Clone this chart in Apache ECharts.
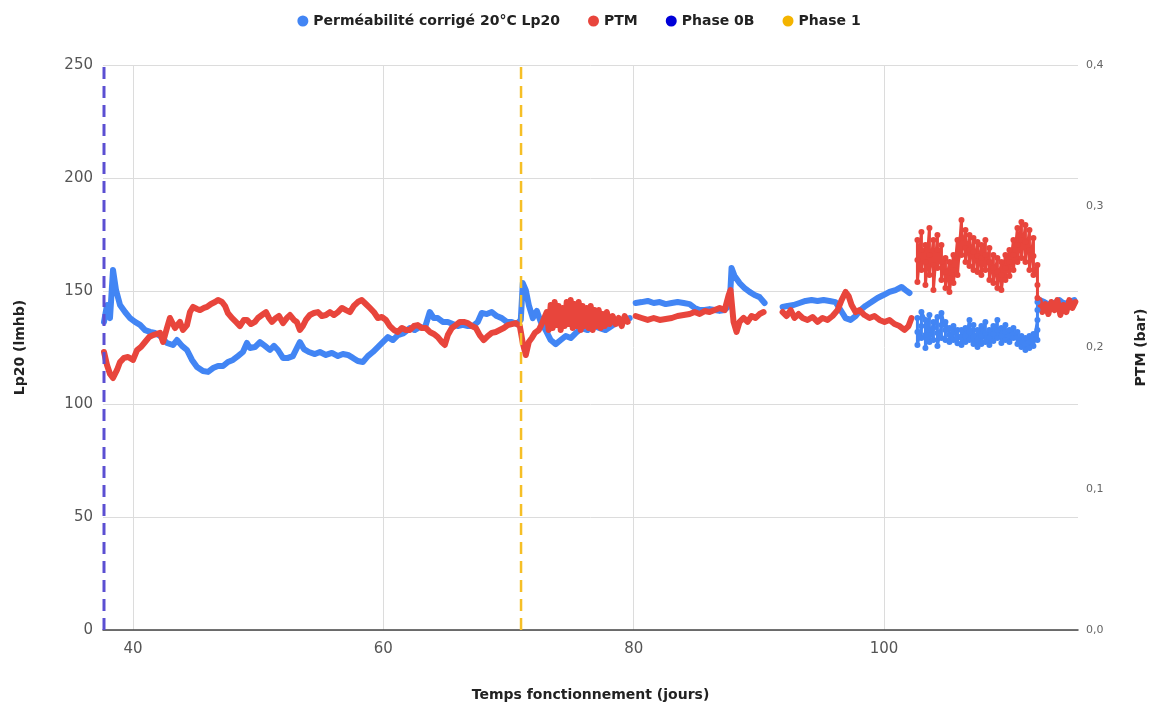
<!DOCTYPE html>
<html>
<head>
<meta charset="utf-8">
<script src="https://cdn.jsdelivr.net/npm/echarts@6/dist/echarts.min.js"></script>
<style>html,body{margin:0;padding:0;background:#fff}#c{width:1158px;height:711px}</style>
</head>
<body>
<div id="c"></div>
<script>
// ---- Tick labels ----
const xTicks = [40, 60, 80, 100];
const phase0B = 37.68;
const phase1 = 71.0;

// ---- Perméabilité corrigé 20°C Lp20 (lmhb) : [jours, Lp20] ----
const lpA = [[37.68,136.3],[37.92,143.8],[38.16,138.0],[38.40,159.3],[38.64,150.4],[38.96,143.8],[39.36,140.7],[39.76,138.0],[40.16,136.3],[40.56,135.0],[40.96,132.7],[41.36,131.9],[41.76,131.4],[42.16,130.1],[42.71,127.0],[43.19,126.1],[43.51,128.3],[43.91,125.7],[44.31,123.9],[44.71,119.5],[45.11,116.4],[45.59,114.6],[45.99,114.2],[46.39,115.9],[46.79,116.8],[47.19,116.8],[47.58,118.6],[47.98,119.5],[48.38,121.2],[48.78,123.0],[49.10,127.0],[49.34,124.8],[49.74,125.2],[50.14,127.4],[50.54,125.7],[50.94,123.9],[51.26,125.7],[51.58,123.9],[51.98,120.4],[52.38,120.4],[52.77,121.2],[53.09,124.8],[53.33,127.4],[53.65,124.3],[54.05,123.0],[54.53,122.1],[54.93,123.0],[55.41,121.7],[55.89,122.6],[56.37,121.2],[56.77,122.1],[57.17,121.7],[57.57,120.4],[57.96,119.0],[58.36,118.6],[58.76,121.2],[59.16,123.0],[59.56,125.2],[59.96,127.4],[60.36,129.6],[60.76,128.3],[61.16,130.5],[61.64,131.4],[62.12,133.6],[62.52,132.7],[62.91,134.1],[63.31,133.6],[63.71,140.7],[64.03,138.0],[64.35,138.0],[64.75,136.3],[65.15,136.3],[65.55,135.4],[65.95,134.5],[66.35,135.0],[66.75,134.5],[67.15,134.5],[67.54,136.3],[67.86,140.3],[68.26,139.8],[68.66,140.7],[69.06,138.9],[69.46,138.0],[69.86,136.3],[70.26,136.3],[70.66,135.4],[70.98,137.2],[71.14,153.5],[71.38,150.4],[71.62,143.8],[71.94,138.0],[72.26,141.2],[72.58,136.3],[72.97,132.7],[73.37,128.3],[73.77,126.5],[74.17,128.3],[74.57,130.1],[74.97,129.2],[75.37,131.4],[75.85,133.6],[76.33,132.7],[76.81,134.5],[77.29,133.6],[77.76,132.7],[78.24,134.5],[78.72,136.3],[79.20,137.2],[79.68,138.0]];
const lpB = [[80.16,144.7],[80.64,145.1],[81.12,145.6],[81.60,144.7],[82.08,145.1],[82.56,144.2],[83.04,144.7],[83.51,145.1],[83.99,144.7],[84.47,144.2],[84.87,142.5],[85.27,141.6],[85.67,141.6],[86.07,142.0],[86.47,141.6],[86.87,141.2],[87.27,141.6],[87.67,143.8],[87.82,160.2],[88.06,156.6],[88.46,153.5],[88.86,151.3],[89.26,149.6],[89.66,148.2],[90.06,147.3],[90.46,144.7]];
const lpC = [[91.90,142.9],[92.30,143.4],[92.78,143.8],[93.25,144.7],[93.73,145.6],[94.21,146.0],[94.69,145.6],[95.17,146.0],[95.65,145.6],[96.13,145.1],[96.53,141.6],[96.93,138.0],[97.33,137.2],[97.73,138.9],[98.12,141.6],[98.52,143.4],[99.00,145.1],[99.48,146.9],[99.96,148.2],[100.44,149.6],[100.92,150.4],[101.40,151.8],[101.72,150.4],[102.04,149.1]];
const lpNoise = [[102.67,138.1],[102.67,131.9],[102.67,126.1],[102.99,134.5],[102.99,129.2],[102.99,140.7],[103.31,137.2],[103.31,130.5],[103.31,124.8],[103.63,139.4],[103.63,132.7],[103.63,127.4],[103.95,136.3],[103.95,128.3],[103.95,133.6],[104.27,138.5],[104.27,131.4],[104.27,125.7],[104.59,135.0],[104.59,129.2],[104.59,140.3],[104.91,132.7],[104.91,128.3],[104.91,136.3],[105.23,130.5],[105.23,133.6],[105.23,127.4],[105.55,131.9],[105.55,128.3],[105.55,134.5],[105.87,130.1],[105.87,126.9],[105.87,132.7],[106.19,132.7],[106.19,129.2],[106.19,126.1],[106.51,133.6],[106.51,130.1],[106.51,127.4],[106.83,137.2],[106.83,131.9],[106.83,128.3],[107.15,135.0],[107.15,129.6],[107.15,126.5],[107.47,132.7],[107.47,128.3],[107.47,125.2],[107.78,134.5],[107.78,130.1],[107.78,126.5],[108.10,136.3],[108.10,131.4],[108.10,127.4],[108.42,132.7],[108.42,129.2],[108.42,126.1],[108.74,134.5],[108.74,131.0],[108.74,127.9],[109.06,137.2],[109.06,132.7],[109.06,129.2],[109.38,133.6],[109.38,130.1],[109.38,127.0],[109.70,135.0],[109.70,131.9],[109.70,128.3],[110.02,132.7],[110.02,130.1],[110.02,127.4],[110.34,133.6],[110.34,131.0],[110.34,129.2],[110.66,131.9],[110.66,129.2],[110.66,126.5],[110.98,130.1],[110.98,127.4],[110.98,125.2],[111.30,129.2],[111.30,126.5],[111.30,123.9],[111.62,130.1],[111.62,127.4],[111.62,124.8],[111.94,131.0],[111.94,128.3],[111.94,125.7],[112.26,137.2],[112.26,132.7],[112.26,128.3],[112.26,141.6],[112.26,145.1]];
const lpD = [[112.42,146.0],[112.81,145.1],[113.21,143.8],[113.61,144.7],[114.01,146.0],[114.41,144.2],[114.81,145.1],[115.21,146.0]];

// ---- PTM (bar) : [jours, PTM] ----
const ptmA = [[37.68,0.1968],[37.92,0.1876],[38.16,0.1812],[38.40,0.1784],[38.72,0.1841],[38.96,0.1897],[39.28,0.1926],[39.60,0.1933],[40.00,0.1912],[40.32,0.1982],[40.64,0.2004],[40.96,0.2039],[41.28,0.2074],[41.60,0.2088],[41.92,0.2096],[42.16,0.2103],[42.40,0.2039],[42.71,0.2138],[42.95,0.2209],[43.35,0.2138],[43.75,0.2181],[43.99,0.2124],[44.31,0.2159],[44.55,0.2251],[44.79,0.2287],[45.11,0.2273],[45.35,0.2265],[45.67,0.2280],[45.91,0.2287],[46.23,0.2308],[46.55,0.2322],[46.79,0.2336],[47.11,0.2322],[47.35,0.2294],[47.58,0.2244],[47.90,0.2209],[48.22,0.2181],[48.54,0.2152],[48.86,0.2195],[49.10,0.2195],[49.42,0.2166],[49.74,0.2181],[49.98,0.2209],[50.30,0.2230],[50.62,0.2251],[50.86,0.2209],[51.10,0.2181],[51.42,0.2209],[51.66,0.2223],[51.98,0.2173],[52.30,0.2209],[52.54,0.2230],[52.85,0.2195],[53.09,0.2181],[53.33,0.2124],[53.57,0.2152],[53.81,0.2195],[54.13,0.2230],[54.45,0.2244],[54.77,0.2251],[55.09,0.2223],[55.41,0.2230],[55.73,0.2251],[56.05,0.2230],[56.37,0.2251],[56.69,0.2280],[57.01,0.2265],[57.33,0.2251],[57.64,0.2294],[57.96,0.2322],[58.28,0.2336],[58.60,0.2308],[58.92,0.2280],[59.24,0.2251],[59.56,0.2209],[59.88,0.2216],[60.20,0.2195],[60.52,0.2152],[60.84,0.2124],[61.16,0.2110],[61.48,0.2138],[61.80,0.2124],[62.12,0.2124],[62.44,0.2152],[62.75,0.2159],[63.07,0.2138],[63.39,0.2138],[63.71,0.2110],[64.03,0.2096],[64.35,0.2074],[64.67,0.2039],[64.91,0.2018],[65.15,0.2088],[65.47,0.2138],[65.79,0.2159],[66.11,0.2181],[66.43,0.2181],[66.75,0.2173],[67.07,0.2152],[67.39,0.2138],[67.70,0.2088],[68.02,0.2053],[68.34,0.2081],[68.66,0.2103],[68.98,0.2110],[69.30,0.2124],[69.62,0.2138],[69.94,0.2159],[70.26,0.2166],[70.58,0.2173],[70.90,0.2152],[71.14,0.2032],[71.38,0.1947],[71.62,0.2039],[71.86,0.2067],[72.10,0.2103],[72.42,0.2124],[72.73,0.2181],[73.05,0.2251],[73.21,0.2124],[73.37,0.2301],[73.53,0.2138],[73.69,0.2322],[73.85,0.2159],[74.01,0.2294],[74.17,0.2124],[74.33,0.2280],[74.49,0.2152],[74.65,0.2322],[74.81,0.2166],[74.97,0.2336],[75.13,0.2138],[75.29,0.2308],[75.45,0.2152],[75.61,0.2322],[75.77,0.2124],[75.93,0.2294],[76.09,0.2152],[76.25,0.2280],[76.41,0.2138],[76.57,0.2294],[76.73,0.2124],[76.89,0.2265],[77.05,0.2152],[77.21,0.2265],[77.37,0.2138],[77.53,0.2237],[77.69,0.2152],[77.85,0.2251],[78.08,0.2166],[78.32,0.2223],[78.56,0.2166],[78.80,0.2209],[79.04,0.2152],[79.28,0.2223],[79.52,0.2181]];
const ptmB = [[80.16,0.2223],[80.64,0.2209],[81.12,0.2195],[81.60,0.2209],[82.08,0.2195],[82.56,0.2202],[83.04,0.2209],[83.51,0.2223],[83.99,0.2230],[84.47,0.2237],[84.87,0.2251],[85.27,0.2237],[85.67,0.2258],[86.07,0.2251],[86.47,0.2265],[86.87,0.2280],[87.27,0.2265],[87.59,0.2372],[87.74,0.2407],[87.98,0.2181],[88.22,0.2110],[88.46,0.2181],[88.78,0.2209],[89.10,0.2181],[89.42,0.2223],[89.74,0.2209],[90.06,0.2237],[90.38,0.2251]];
const ptmC = [[91.90,0.2251],[92.22,0.2223],[92.54,0.2265],[92.85,0.2209],[93.17,0.2237],[93.49,0.2209],[93.89,0.2195],[94.29,0.2216],[94.69,0.2181],[95.09,0.2209],[95.49,0.2195],[95.89,0.2223],[96.29,0.2265],[96.61,0.2336],[96.93,0.2393],[97.17,0.2365],[97.41,0.2301],[97.73,0.2251],[98.04,0.2265],[98.44,0.2230],[98.84,0.2209],[99.24,0.2223],[99.64,0.2195],[100.04,0.2181],[100.44,0.2195],[100.84,0.2166],[101.24,0.2152],[101.64,0.2124],[101.96,0.2152],[102.20,0.2209]];
const ptmNoise = [[102.67,0.2761],[102.67,0.2619],[102.67,0.2464],[102.99,0.2818],[102.99,0.2690],[102.99,0.2549],[103.31,0.2726],[103.31,0.2605],[103.31,0.2442],[103.63,0.2846],[103.63,0.2655],[103.63,0.2513],[103.95,0.2761],[103.95,0.2584],[103.95,0.2407],[104.27,0.2796],[104.27,0.2690],[104.27,0.2563],[104.59,0.2726],[104.59,0.2605],[104.59,0.2478],[104.91,0.2634],[104.91,0.2535],[104.91,0.2421],[105.23,0.2605],[105.23,0.2492],[105.23,0.2393],[105.55,0.2655],[105.55,0.2549],[105.55,0.2457],[105.87,0.2761],[105.87,0.2634],[105.87,0.2513],[106.19,0.2903],[106.19,0.2775],[106.19,0.2655],[106.51,0.2832],[106.51,0.2704],[106.51,0.2605],[106.83,0.2796],[106.83,0.2690],[106.83,0.2577],[107.15,0.2775],[107.15,0.2676],[107.15,0.2549],[107.47,0.2747],[107.47,0.2648],[107.47,0.2535],[107.78,0.2726],[107.78,0.2634],[107.78,0.2513],[108.10,0.2761],[108.10,0.2655],[108.10,0.2549],[108.42,0.2704],[108.42,0.2605],[108.42,0.2478],[108.74,0.2655],[108.74,0.2563],[108.74,0.2457],[109.06,0.2634],[109.06,0.2535],[109.06,0.2421],[109.38,0.2605],[109.38,0.2513],[109.38,0.2407],[109.70,0.2655],[109.70,0.2563],[109.70,0.2478],[110.02,0.2690],[110.02,0.2605],[110.02,0.2506],[110.34,0.2761],[110.34,0.2655],[110.34,0.2549],[110.66,0.2846],[110.66,0.2726],[110.66,0.2605],[110.98,0.2888],[110.98,0.2761],[110.98,0.2634],[111.30,0.2867],[111.30,0.2747],[111.30,0.2605],[111.62,0.2832],[111.62,0.2690],[111.62,0.2549],[111.94,0.2775],[111.94,0.2648],[111.94,0.2513],[112.26,0.2584],[112.26,0.2442],[112.26,0.2350]];
const ptmD = [[112.42,0.2336],[112.65,0.2251],[112.89,0.2308],[113.13,0.2237],[113.37,0.2322],[113.61,0.2265],[113.85,0.2336],[114.09,0.2230],[114.33,0.2301],[114.57,0.2251],[114.81,0.2336],[115.05,0.2280],[115.29,0.2322]];

const LP_NAME = 'Perméabilité corrigé 20°C Lp20';
const PTM_NAME = 'PTM';
const BLUE = '#4285f4';
const RED = '#e8453c';
const FONT = '"DejaVu Sans", Roboto, sans-serif';

const chart = echarts.init(document.getElementById('c'), null, {renderer: 'canvas'});

function lineSeries(name, data, color, yIdx) {
  return {
    name: name, type: 'line', data: data, yAxisIndex: yIdx,
    showSymbol: false, symbol: 'circle', silent: true, animation: false,
    itemStyle: {color: color},
    lineStyle: {color: color, width: 6, cap: 'round', join: 'round'}
  };
}
function noiseSeries(name, data, color, yIdx) {
  return {
    name: name, type: 'line', data: data, yAxisIndex: yIdx,
    showSymbol: true, symbol: 'circle', symbolSize: 6, silent: true, animation: false,
    itemStyle: {color: color, borderWidth: 0},
    lineStyle: {color: color, width: 3, cap: 'round', join: 'round'}
  };
}

const option = {
  backgroundColor: '#fff',
  textStyle: {fontFamily: FONT},
  legend: {
    top: 9, left: 'center', itemWidth: 11, itemHeight: 11, itemGap: 28,
    textStyle: {fontSize: 14, fontWeight: 'bold', color: '#222', fontFamily: FONT},
    data: [
      {name: LP_NAME, icon: 'circle'},
      {name: PTM_NAME, icon: 'circle'},
      {name: 'Phase 0B', icon: 'circle'},
      {name: 'Phase 1', icon: 'circle'}
    ]
  },
  grid: {left: 103, right: 80, top: 65, bottom: 81},
  xAxis: {
    type: 'value', min: 37.6, max: 115.5,
    name: 'Temps fonctionnement (jours)', nameLocation: 'middle', nameGap: 58,
    nameTextStyle: {fontSize: 14, fontWeight: 'bold', color: '#222', fontFamily: FONT},
    axisLine: {show: true, lineStyle: {color: '#444', width: 1.5}},
    axisTick: {show: false, customValues: xTicks},
    axisLabel: {customValues: xTicks, fontSize: 15, color: '#555', margin: 12, fontFamily: FONT},
    splitLine: {show: true, lineStyle: {color: '#dcdcdc', width: 1}}
  },
  yAxis: [
    {
      type: 'value', min: 0, max: 250, interval: 50,
      name: 'Lp20 (lmhb)', nameLocation: 'middle', nameGap: 76, nameRotate: 90,
      nameTextStyle: {fontSize: 14, fontWeight: 'bold', color: '#222', fontFamily: FONT},
      axisLine: {show: false}, axisTick: {show: false},
      axisLabel: {fontSize: 15, color: '#555', margin: 10, fontFamily: FONT},
      splitLine: {show: true, lineStyle: {color: '#dcdcdc', width: 1}}
    },
    {
      type: 'value', min: 0, max: 0.4, interval: 0.1, position: 'right',
      name: 'PTM (bar)', nameLocation: 'middle', nameGap: 56, nameRotate: 90,
      nameTextStyle: {fontSize: 14, fontWeight: 'bold', color: '#222', fontFamily: FONT},
      axisLine: {show: false}, axisTick: {show: false},
      axisLabel: {fontSize: 11, color: '#666', margin: 8, fontFamily: FONT,
        formatter: v => v.toFixed(1).replace('.', ',')},
      splitLine: {show: false}
    }
  ],
  series: [
    lineSeries(LP_NAME, lpA, BLUE, 0),
    lineSeries(LP_NAME, lpB, BLUE, 0),
    lineSeries(LP_NAME, lpC, BLUE, 0),
    noiseSeries(LP_NAME, lpNoise, BLUE, 0),
    lineSeries(LP_NAME, lpD, BLUE, 0),
    lineSeries(PTM_NAME, ptmA, RED, 1),
    lineSeries(PTM_NAME, ptmB, RED, 1),
    lineSeries(PTM_NAME, ptmC, RED, 1),
    noiseSeries(PTM_NAME, ptmNoise, RED, 1),
    lineSeries(PTM_NAME, ptmD, RED, 1),
    {
      name: 'Phase 0B', type: 'line', yAxisIndex: 0, silent: true, animation: false,
      data: [[phase0B, 0], [phase0B, 250]], showSymbol: false, symbol: 'circle',
      itemStyle: {color: '#0000d8'},
      lineStyle: {color: '#5b4fd2', width: 3, type: [12, 7]}
    },
    {
      name: 'Phase 1', type: 'line', yAxisIndex: 0, silent: true, animation: false,
      data: [[phase1, 0], [phase1, 250]], showSymbol: false, symbol: 'circle',
      itemStyle: {color: '#f4b400'},
      lineStyle: {color: '#f6bf26', width: 2.5, type: [12, 7]}
    }
  ]
};
chart.setOption(option);
</script>
</body>
</html>
